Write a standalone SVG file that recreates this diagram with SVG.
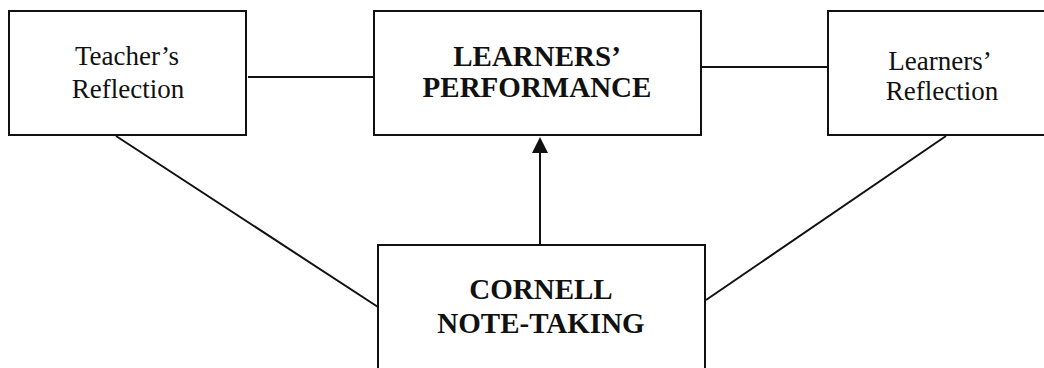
<svg xmlns="http://www.w3.org/2000/svg" width="1044" height="368" viewBox="0 0 1044 368">
  <style>
    .box { fill: #ffffff; stroke: #111111; stroke-width: 2; }
    .link { stroke: #111111; stroke-width: 2; fill: none; }
    .lbl { font-family: "Liberation Serif", "Times New Roman", serif; font-size: 27px; fill: #111111; text-anchor: middle; }
    .lbl-b { font-family: "Liberation Serif", "Times New Roman", serif; font-size: 29px; font-weight: bold; fill: #111111; text-anchor: middle; }
  </style>
  <defs>
    <marker id="arrow" markerWidth="15" markerHeight="16" refX="7.5" refY="0" orient="auto-start-reverse" markerUnits="userSpaceOnUse" viewBox="0 0 15 16">
      <path d="M0,16 L7.5,0 L15,16 Z" fill="#111111"/>
    </marker>
  </defs>
  <rect width="1044" height="368" fill="#ffffff"/>

  <g id="connectors">
    <line class="link" x1="248" y1="77" x2="373" y2="77"/>
    <line class="link" x1="702" y1="67" x2="828" y2="67"/>
    <line class="link" x1="116" y1="136" x2="378" y2="307"/>
    <line class="link" x1="946" y1="136" x2="706" y2="300"/>
    <line class="link" x1="540" y1="245" x2="540" y2="150"/>
    <path d="M532,153 L540,137 L548,153 Z" fill="#111111"/>
  </g>

  <g id="teachers-reflection">
    <rect class="box" x="9" y="11" width="237" height="124"/>
    <text class="lbl" x="127" y="65">Teacher’s</text>
    <text class="lbl" x="128" y="98">Reflection</text>
  </g>

  <g id="learners-performance">
    <rect class="box" x="374" y="11" width="327" height="124"/>
    <text class="lbl-b" x="537" y="66">LEARNERS’</text>
    <text class="lbl-b" x="537" y="97">PERFORMANCE</text>
  </g>

  <g id="learners-reflection">
    <rect class="box" x="828" y="11" width="226" height="124"/>
    <text class="lbl" x="940" y="70">Learners’</text>
    <text class="lbl" x="942" y="100">Reflection</text>
  </g>

  <g id="cornell-note-taking">
    <rect class="box" x="378" y="245" width="327" height="140"/>
    <text class="lbl-b" x="541" y="299">CORNELL</text>
    <text class="lbl-b" x="541" y="333">NOTE-TAKING</text>
  </g>
</svg>
